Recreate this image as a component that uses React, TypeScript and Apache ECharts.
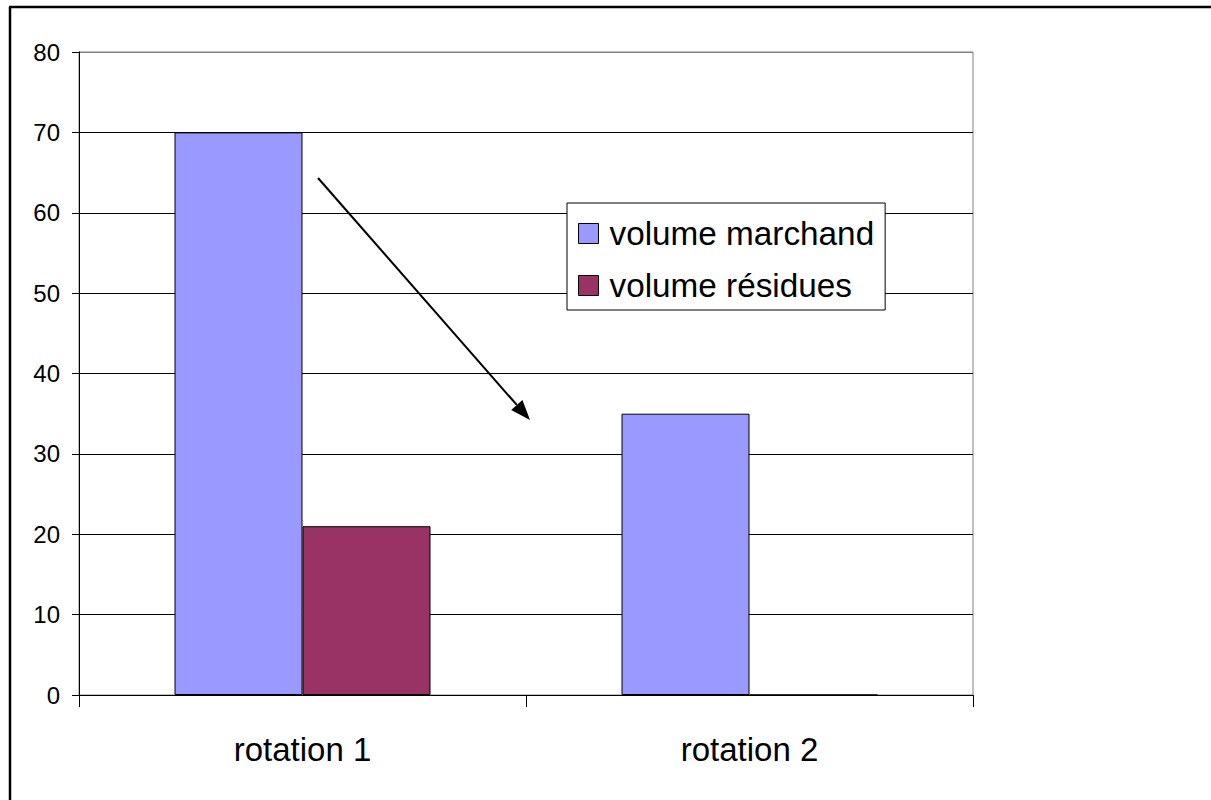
import React, { useEffect, useRef } from "react";
import * as echarts from "echarts";

const categories = ["rotation 1", "rotation 2"];
const seriesNames = ["volume marchand", "volume résidues"];
const volumeMarchand = [70, 35];
const volumeResidues = [21, 0];
const yTicks = { min: 0, max: 80, interval: 10 };

const FONT = "'Liberation Sans', Arial, sans-serif";

export default function App() {
  const ref = useRef<HTMLDivElement>(null);
  useEffect(() => {
    document.body.style.margin = "0";
    if (!ref.current) return;
    const chart = echarts.init(ref.current, null, { renderer: "svg" });
    const tip = [530, 420];
    const start = [318, 178];
    const dx = tip[0] - start[0];
    const dy = tip[1] - start[1];
    const len = Math.sqrt(dx * dx + dy * dy);
    const ux = dx / len, uy = dy / len;
    const hl = 20, hw = 7.5;
    const bx = tip[0] - ux * hl, by = tip[1] - uy * hl;
    chart.setOption({
      animation: false,
      backgroundColor: "#ffffff",
      textStyle: { fontFamily: FONT },
      grid: {
        left: 79,
        right: 238,
        top: 52,
        bottom: 105,
        show: true,
        borderColor: "#808080",
        borderWidth: 1,
        backgroundColor: "transparent",
      },
      legend: {
        orient: "vertical",
        left: 567,
        top: 203,
        padding: [14, 11, 8, 11],
        itemGap: 19,
        itemWidth: 20,
        itemHeight: 20,
        icon: "rect",
        backgroundColor: "#ffffff",
        borderColor: "#000000",
        borderWidth: 1,
        borderRadius: 0,
        textStyle: {
          fontFamily: FONT,
          fontSize: 33.3,
          color: "#000",
          lineHeight: 32,
          padding: [0, 0, 0, 6],
        },
        itemStyle: { borderColor: "#000", borderWidth: 1 },
        data: seriesNames,
      },
      xAxis: {
        type: "category",
        data: categories,
        boundaryGap: true,
        axisLine: { lineStyle: { color: "#000", width: 1 } },
        axisTick: { show: true, length: 12, lineStyle: { color: "#000" } },
        axisLabel: {
          fontFamily: FONT,
          fontSize: 33,
          color: "#000",
          margin: 38,
        },
        splitLine: { show: false },
      },
      yAxis: {
        type: "value",
        min: yTicks.min,
        max: yTicks.max,
        interval: yTicks.interval,
        axisLine: { show: true, lineStyle: { color: "#000", width: 1 } },
        axisTick: { show: true, length: 7, lineStyle: { color: "#000" } },
        axisLabel: {
          fontFamily: FONT,
          fontSize: 24,
          color: "#000",
          margin: 19,
        },
        splitLine: {
          show: true,
          lineStyle: {
            color: ["#000", "#000", "#000", "#000", "#000", "#000", "#000", "#000", "#808080"],
            width: 1,
          },
        },
      },
      series: [
        {
          name: seriesNames[0],
          type: "bar",
          data: volumeMarchand,
          barWidth: 128,
          barGap: "0%",
          itemStyle: { color: "#9999FF", borderColor: "#000", borderWidth: 1 },
        },
        {
          name: seriesNames[1],
          type: "bar",
          data: volumeResidues,
          barWidth: 128,
          barGap: "0%",
          itemStyle: { color: "#993366", borderColor: "#000", borderWidth: 1 },
        },
      ],
      graphic: [
        {
          type: "line",
          shape: { x1: 10, y1: 7, x2: 10, y2: 820 },
          style: { stroke: "#000", lineWidth: 2.5 },
          z: 100,
        },
        {
          type: "line",
          shape: { x1: 9, y1: 7, x2: 1230, y2: 7 },
          style: { stroke: "#000", lineWidth: 2.5 },
          z: 100,
        },
        {
          type: "line",
          shape: { x1: start[0], y1: start[1], x2: bx, y2: by },
          style: { stroke: "#000", lineWidth: 2 },
          z: 100,
        },
        {
          type: "polygon",
          shape: {
            points: [
              [tip[0], tip[1]],
              [bx - uy * hw, by + ux * hw],
              [bx + uy * hw, by - ux * hw],
            ],
          },
          style: { fill: "#000" },
          z: 100,
        },
      ],
    });
    return () => chart.dispose();
  }, []);
  return <div ref={ref} style={{ width: 1211, height: 800 }} />;
}
